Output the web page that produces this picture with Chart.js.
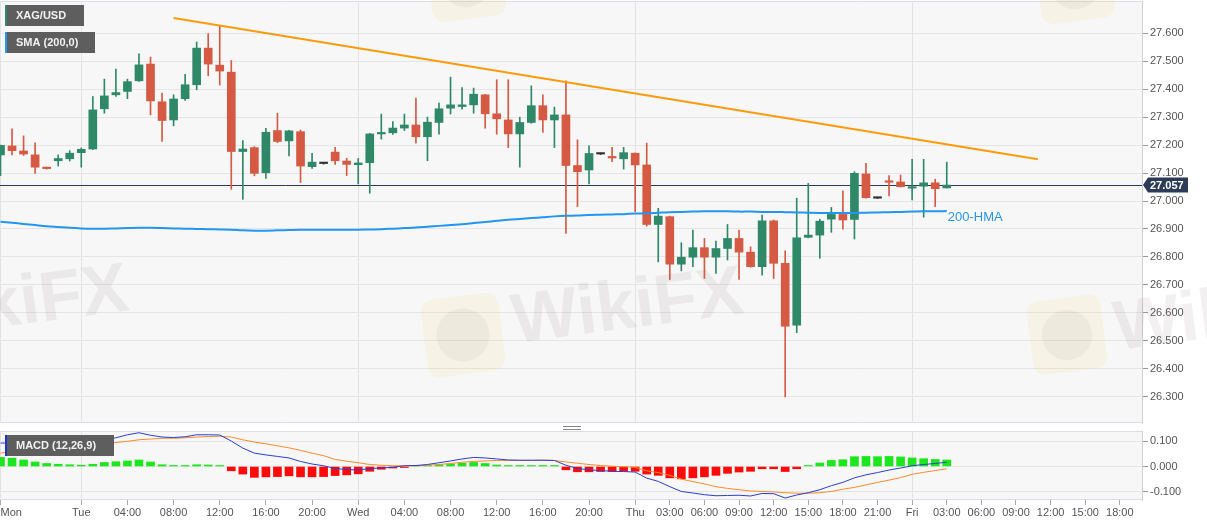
<!DOCTYPE html>
<html>
<head>
<meta charset="utf-8">
<script src="https://cdn.jsdelivr.net/npm/chart.js@4.4.0/dist/chart.umd.min.js"></script>
<style>
  html, body { margin: 0; padding: 0; background: #fff; }
  #wrap { position: relative; width: 1207px; height: 526px; overflow: hidden; }
  #main { position: absolute; left: 0; top: 0; }
  #macd { position: absolute; left: 0; top: 424px; }
</style>
</head>
<body>
<div id="wrap">
  <canvas id="main" width="1207" height="424"></canvas>
  <canvas id="macd" width="1207" height="102"></canvas>
</div>
<script>
// hourly candles, index 0 = Mon 17:00
var candleOpen = [27.165,27.197,27.179,27.165,27.119,27.144,27.151,27.173,27.186,27.330,27.380,27.392,27.430,27.490,27.355,27.290,27.366,27.416,27.547,27.486,27.461,27.177,27.191,27.101,27.252,27.215,27.248,27.123,27.134,27.175,27.143,27.130,27.137,27.240,27.244,27.261,27.272,27.230,27.281,27.332,27.338,27.344,27.380,27.312,27.290,27.240,27.281,27.341,27.290,27.308,27.127,27.111,27.168,27.157,27.151,27.171,27.129,26.916,26.944,26.774,26.799,26.833,26.799,26.830,26.866,26.817,26.765,26.929,26.777,26.556,26.870,26.878,26.935,26.952,26.934,27.097,27.010,27.070,27.068,27.046,27.053,27.065,27.047];
var candleHigh = [27.200,27.258,27.233,27.208,27.121,27.165,27.180,27.190,27.374,27.436,27.472,27.436,27.527,27.515,27.386,27.380,27.453,27.569,27.599,27.627,27.503,27.216,27.195,27.260,27.314,27.253,27.254,27.171,27.136,27.192,27.153,27.152,27.242,27.311,27.284,27.311,27.368,27.300,27.350,27.443,27.406,27.404,27.382,27.434,27.434,27.300,27.412,27.380,27.336,27.430,27.219,27.197,27.170,27.192,27.192,27.172,27.207,26.974,26.946,26.851,26.896,26.866,26.857,26.916,26.896,26.836,26.950,26.932,26.822,27.010,27.063,26.935,26.977,27.036,27.105,27.135,27.011,27.091,27.093,27.149,27.149,27.078,27.139];
var candleLow = [27.091,27.165,27.163,27.099,27.114,27.125,27.143,27.121,27.184,27.314,27.374,27.366,27.428,27.308,27.213,27.269,27.360,27.398,27.448,27.415,27.042,27.006,27.090,27.081,27.209,27.161,27.066,27.117,27.132,27.131,27.091,27.061,27.028,27.221,27.238,27.252,27.207,27.144,27.239,27.311,27.329,27.314,27.261,27.239,27.191,27.121,27.278,27.245,27.191,26.884,26.980,27.061,27.166,27.141,27.114,26.962,26.910,26.782,26.719,26.750,26.765,26.723,26.741,26.789,26.719,26.763,26.735,26.723,26.299,26.529,26.868,26.795,26.888,26.899,26.864,27.010,27.009,27.018,27.050,27.004,26.942,26.980,27.046];
var candleClose = [27.199,27.180,27.168,27.121,27.116,27.152,27.171,27.185,27.326,27.376,27.388,27.427,27.487,27.358,27.288,27.365,27.416,27.547,27.490,27.465,27.177,27.186,27.099,27.246,27.213,27.251,27.125,27.139,27.134,27.144,27.131,27.136,27.240,27.245,27.261,27.272,27.230,27.282,27.330,27.344,27.344,27.382,27.312,27.294,27.240,27.281,27.341,27.290,27.308,27.127,27.105,27.170,27.168,27.154,27.173,27.129,26.916,26.946,26.774,26.799,26.833,26.799,26.830,26.866,26.817,26.765,26.929,26.777,26.552,26.868,26.878,26.928,26.952,26.932,27.099,27.012,27.010,27.067,27.051,27.049,27.065,27.044,27.057];
var hma200 = [26.926,26.922,26.918,26.914,26.910,26.907,26.904,26.902,26.901,26.901,26.902,26.903,26.904,26.904,26.903,26.902,26.901,26.900,26.899,26.898,26.897,26.895,26.894,26.894,26.895,26.896,26.897,26.897,26.897,26.897,26.897,26.897,26.898,26.899,26.901,26.903,26.905,26.908,26.911,26.914,26.917,26.921,26.925,26.929,26.933,26.936,26.939,26.942,26.945,26.947,26.948,26.950,26.951,26.952,26.953,26.955,26.956,26.958,26.960,26.961,26.962,26.963,26.963,26.963,26.962,26.962,26.961,26.961,26.960,26.959,26.958,26.957,26.957,26.957,26.957,26.958,26.959,26.960,26.961,26.962,26.963,26.963,26.964];
var trendIdx = [15, 89.9];
var trendVal = [27.655, 27.149];
var lastPrice = 27.057;

var macdLine = [0.093,0.093,0.092,0.089,0.087,0.087,0.088,0.088,0.095,0.106,0.114,0.126,0.134,0.124,0.117,0.115,0.118,0.126,0.126,0.125,0.101,0.073,0.053,0.046,0.040,0.034,0.020,0.010,0.003,-0.008,-0.012,-0.014,-0.008,-0.006,-0.003,0.003,0.004,0.008,0.015,0.022,0.030,0.036,0.034,0.030,0.026,0.025,0.025,0.025,0.024,0.005,-0.008,-0.013,-0.016,-0.019,-0.020,-0.022,-0.046,-0.059,-0.080,-0.099,-0.105,-0.112,-0.116,-0.115,-0.114,-0.117,-0.107,-0.108,-0.125,-0.113,-0.104,-0.092,-0.076,-0.063,-0.045,-0.033,-0.024,-0.014,-0.006,0.003,0.008,0.012,0.017];
var signalLine = [0.053,0.060,0.066,0.071,0.075,0.078,0.081,0.083,0.086,0.090,0.095,0.100,0.106,0.109,0.112,0.112,0.114,0.117,0.119,0.120,0.117,0.106,0.097,0.090,0.082,0.074,0.064,0.053,0.043,0.028,0.021,0.015,0.008,0.005,0.003,0.003,0.003,0.005,0.008,0.012,0.017,0.020,0.022,0.024,0.024,0.024,0.024,0.025,0.024,0.018,0.013,0.008,0.004,0.001,-0.001,-0.003,-0.017,-0.024,-0.035,-0.050,-0.060,-0.069,-0.080,-0.087,-0.092,-0.097,-0.099,-0.101,-0.104,-0.106,-0.106,-0.104,-0.099,-0.090,-0.083,-0.073,-0.063,-0.054,-0.044,-0.031,-0.023,-0.016,-0.009];
var macdHist = [0.036,0.033,0.026,0.018,0.012,0.009,0.007,0.005,0.009,0.016,0.019,0.022,0.026,0.018,0.007,0.003,0.004,0.007,0.006,0.004,-0.017,-0.030,-0.043,-0.041,-0.040,-0.037,-0.041,-0.041,-0.040,-0.036,-0.033,-0.029,-0.019,-0.011,-0.006,-0.001,0.001,0.003,0.007,0.010,0.013,0.016,0.012,0.006,0.002,0.001,0.001,0.001,0.001,-0.013,-0.021,-0.021,-0.020,-0.020,-0.019,-0.019,-0.030,-0.035,-0.045,-0.049,-0.045,-0.041,-0.035,-0.027,-0.022,-0.019,-0.009,-0.009,-0.020,-0.009,0.003,0.014,0.024,0.027,0.039,0.040,0.039,0.040,0.038,0.034,0.031,0.028,0.026];

var priceTicks = [26.3,26.4,26.5,26.6,26.7,26.8,26.9,27.0,27.1,27.2,27.3,27.4,27.5,27.6];
var macdTicks = [-0.1, 0, 0.1];
var timeTickIdx = [0,7,11,15,19,23,27,31,35,39,43,47,51,55,58,61,64,67,70,73,76,79,82,85,88,91,94,97];
var timeTickText = ['Mon','Tue','04:00','08:00','12:00','16:00','20:00','Wed','04:00','08:00','12:00','16:00','20:00','Thu','03:00','06:00','09:00','12:00','15:00','18:00','21:00','Fri','03:00','06:00','09:00','12:00','15:00','18:00'];

var X_MIN = -0.043, X_MAX = 98.92;
var GREEN = '#2f8868', RED = '#d65a43', DOJI = '#333333';
var FONT = 'Arial, "Liberation Sans", sans-serif';

Chart.defaults.font.family = FONT;
Chart.defaults.font.size = 11;
Chart.defaults.color = '#555';
Chart.defaults.animation = false;

function candleColor(i) {
  if (candleClose[i] > candleOpen[i]) return GREEN;
  if (candleClose[i] < candleOpen[i]) return RED;
  return DOJI;
}
function isDay(i) { return timeTickText[i] !== undefined && timeTickText[i].indexOf(':') < 0; }

function xScale(showLabels) {
  return {
    type: 'linear', min: X_MIN, max: X_MAX, offset: false,
    afterBuildTicks: function (s) {
      s.ticks = timeTickIdx.map(function (v) { return { value: v }; }).concat([{ value: X_MAX }]);
    },
    afterFit: function (s) {
      s.paddingLeft = 0; s.paddingRight = 0; s.paddingTop = 0; s.paddingBottom = 0;
      s.height = showLabels ? 26 : 0;
    },
    grid: {
      offset: false,
      drawTicks: showLabels,
      tickLength: 5,
      color: function (c) { return isDay(c.index) ? '#e3e3e3' : 'rgba(0,0,0,0)'; },
      tickColor: function (c) { return c.index < timeTickText.length ? '#aaa' : 'rgba(0,0,0,0)'; }
    },
    border: { display: false },
    ticks: {
      display: showLabels, autoSkip: false, maxRotation: 0, align: 'inner', padding: 1,
      color: '#555', font: { size: 11 },
      callback: function (v, i) { return timeTickText[i] !== undefined ? timeTickText[i] : ''; }
    }
  };
}

function yScale(min, max, list) {
  return {
    position: 'right', min: min, max: max,
    afterBuildTicks: function (s) { s.ticks = list.map(function (v) { return { value: v }; }); },
    afterFit: function (s) {
      s.width = 65;
      s.paddingTop = 0; s.paddingBottom = 0; s.paddingLeft = 0; s.paddingRight = 0;
    },
    grid: { color: '#e5e5e5', tickColor: '#999', tickLength: 6 },
    border: { color: '#cfcfcf' },
    ticks: { padding: 2, color: '#555', callback: function (v) { return v.toFixed(3); } }
  };
}

function roundRect(ctx, x, y, w, h, r) {
  ctx.beginPath();
  ctx.moveTo(x + r, y);
  ctx.arcTo(x + w, y, x + w, y + h, r);
  ctx.arcTo(x + w, y + h, x, y + h, r);
  ctx.arcTo(x, y + h, x, y, r);
  ctx.arcTo(x, y, x + w, y, r);
  ctx.closePath();
}

function drawTag(ctx, x, y, w, h, text, edge) {
  ctx.save();
  ctx.fillStyle = '#5e5e5e';
  ctx.fillRect(x, y, w, h);
  ctx.fillStyle = edge;
  ctx.fillRect(x, y, 2, h);
  ctx.fillStyle = '#f2f2f2';
  ctx.font = 'bold 11px ' + FONT;
  ctx.textBaseline = 'middle';
  ctx.fillText(text, x + 11, y + h / 2 + 0.5);
  ctx.restore();
}

function drawLogo(ctx, x, y, s) {
  ctx.save();
  ctx.translate(x, y);
  ctx.rotate(-0.13);
  ctx.fillStyle = 'rgba(240,205,110,0.13)';
  roundRect(ctx, -s / 2, -s / 2, s, s, s * 0.16);
  ctx.fill();
  ctx.fillStyle = 'rgba(120,110,110,0.06)';
  ctx.beginPath();
  ctx.arc(0, 0, s * 0.34, 0, Math.PI * 2);
  ctx.fill();
  ctx.restore();
}
function drawWord(ctx, x, y) {
  ctx.save();
  ctx.translate(x, y);
  ctx.rotate(-0.13);
  ctx.fillStyle = 'rgba(130,110,110,0.10)';
  ctx.font = 'bold 70px ' + FONT;
  ctx.fillText('WikiFX', 0, 0);
  ctx.restore();
}

var panelBg = {
  id: 'panelBg',
  beforeDraw: function (chart) {
    var a = chart.chartArea, ctx = chart.ctx;
    ctx.save();
    ctx.fillStyle = '#f7f7f7';
    ctx.fillRect(a.left, a.top, a.right - a.left, a.bottom - a.top);
    ctx.strokeStyle = '#dcdce4';
    ctx.lineWidth = 1;
    ctx.beginPath();
    ctx.moveTo(a.left, a.top + 0.5); ctx.lineTo(a.right, a.top + 0.5);
    ctx.moveTo(a.left, a.bottom - 0.5); ctx.lineTo(a.right, a.bottom - 0.5);
    ctx.stroke();
    ctx.restore();
  }
};

var mainDeco = {
  id: 'mainDeco',
  beforeDatasetsDraw: function (chart) {
    var ctx = chart.ctx, y = chart.scales.y, a = chart.chartArea;
    drawLogo(ctx, 463, 335, 78);
    drawWord(ctx, 515, 343);
    drawWord(ctx, -100, 340);
    drawLogo(ctx, 1067, 335, 74);
    drawWord(ctx, 1117, 350);
    drawLogo(ctx, 466, -18, 74);
    drawLogo(ctx, 1075, -16, 74);
    var py = Math.round(y.getPixelForValue(lastPrice)) + 0.5;
    ctx.save();
    ctx.strokeStyle = '#2c3b57';
    ctx.lineWidth = 1;
    ctx.beginPath();
    ctx.moveTo(a.left, py); ctx.lineTo(a.right, py);
    ctx.stroke();
    ctx.restore();
  },
  afterDatasetsDraw: function (chart) {
    var ctx = chart.ctx, x = chart.scales.x, y = chart.scales.y;
    var n = hma200.length - 1;
    ctx.save();
    ctx.fillStyle = '#2a93e8';
    ctx.font = '13px ' + FONT;
    ctx.textBaseline = 'middle';
    ctx.fillText('200-HMA', x.getPixelForValue(n) + 1, y.getPixelForValue(hma200[n]) + 6);
    ctx.restore();
  },
  afterDraw: function (chart) {
    var ctx = chart.ctx, y = chart.scales.y, a = chart.chartArea;
    var py = y.getPixelForValue(lastPrice);
    ctx.save();
    ctx.fillStyle = '#2c3b57';
    ctx.beginPath();
    ctx.moveTo(a.right + 1, py);
    ctx.lineTo(a.right + 6, py - 7.5);
    ctx.lineTo(a.right + 46, py - 7.5);
    ctx.lineTo(a.right + 46, py + 7.5);
    ctx.lineTo(a.right + 6, py + 7.5);
    ctx.closePath();
    ctx.fill();
    ctx.fillStyle = '#fff';
    ctx.font = 'bold 11px ' + FONT;
    ctx.textBaseline = 'middle';
    ctx.fillText(lastPrice.toFixed(3), a.right + 8, py + 0.5);
    ctx.restore();
    drawTag(ctx, 5, 5, 79, 21, 'XAG/USD', '#2f8868');
    drawTag(ctx, 5, 32, 90, 21, 'SMA (200,0)', '#2196f3');
  }
};

var macdDeco = {
  id: 'macdDeco',
  afterDraw: function (chart) {
    var ctx = chart.ctx;
    ctx.save();
    ctx.strokeStyle = '#888';
    ctx.lineWidth = 1;
    ctx.beginPath();
    ctx.moveTo(563, 2.5); ctx.lineTo(581, 2.5);
    ctx.moveTo(563, 5.5); ctx.lineTo(581, 5.5);
    ctx.stroke();
    ctx.restore();
    drawTag(ctx, 5, 11, 109, 21, 'MACD (12,26,9)', '#2233cc');
  }
};

var idx = candleOpen.map(function (v, i) { return i; });

new Chart(document.getElementById('main'), {
  type: 'bar',
  data: {
    datasets: [
      {
        type: 'line', label: 'Trend', order: 0,
        data: trendIdx.map(function (v, i) { return { x: v, y: trendVal[i] }; }),
        borderColor: '#ff9a0a', borderWidth: 2, pointRadius: 0
      },
      {
        type: 'line', label: '200-HMA', order: 0,
        data: idx.map(function (i) { return { x: i, y: hma200[i] }; }),
        borderColor: '#2196f3', borderWidth: 2, pointRadius: 0, tension: 0.3
      },
      {
        label: 'wick', order: 2, grouped: false,
        data: idx.map(function (i) { return { x: i, y: [candleLow[i], candleHigh[i]] }; }),
        backgroundColor: function (c) { return candleColor(c.dataIndex); },
        barThickness: 1, borderWidth: 0
      },
      {
        label: 'body', order: 1, grouped: false,
        data: idx.map(function (i) { return { x: i, y: [candleOpen[i], candleClose[i]] }; }),
        backgroundColor: function (c) { return candleColor(c.dataIndex); },
        barThickness: 8, minBarLength: 1.5, borderWidth: 0
      }
    ]
  },
  options: {
    responsive: false,
    events: [],
    layout: { padding: { top: 1, bottom: 1, left: 0, right: 0 } },
    plugins: { legend: { display: false }, tooltip: { enabled: false } },
    scales: {
      x: xScale(false),
      y: yScale(26.2057, 27.7156, priceTicks)
    }
  },
  plugins: [panelBg, mainDeco]
});

new Chart(document.getElementById('macd'), {
  type: 'bar',
  data: {
    datasets: [
      {
        type: 'line', label: 'MACD', order: 0,
        data: idx.map(function (i) { return { x: i, y: macdLine[i] }; }),
        borderColor: '#2a3fd0', borderWidth: 1, pointRadius: 0
      },
      {
        type: 'line', label: 'Signal', order: 0,
        data: idx.map(function (i) { return { x: i, y: signalLine[i] }; }),
        borderColor: '#ff8a2a', borderWidth: 1, pointRadius: 0
      },
      {
        label: 'Histogram', order: 1, grouped: false,
        data: idx.map(function (i) { return { x: i, y: macdHist[i] }; }),
        backgroundColor: function (c) { return macdHist[c.dataIndex] >= 0 ? '#1ee61e' : '#ff0a0a'; },
        barThickness: 8, minBarLength: 1, borderWidth: 0
      }
    ]
  },
  options: {
    responsive: false,
    events: [],
    layout: { padding: { top: 7, bottom: 0, left: 0, right: 0 } },
    plugins: { legend: { display: false }, tooltip: { enabled: false } },
    scales: {
      x: xScale(true),
      y: yScale(-0.1329, 0.1409, macdTicks)
    }
  },
  plugins: [panelBg, macdDeco]
});
</script>
</body>
</html>
